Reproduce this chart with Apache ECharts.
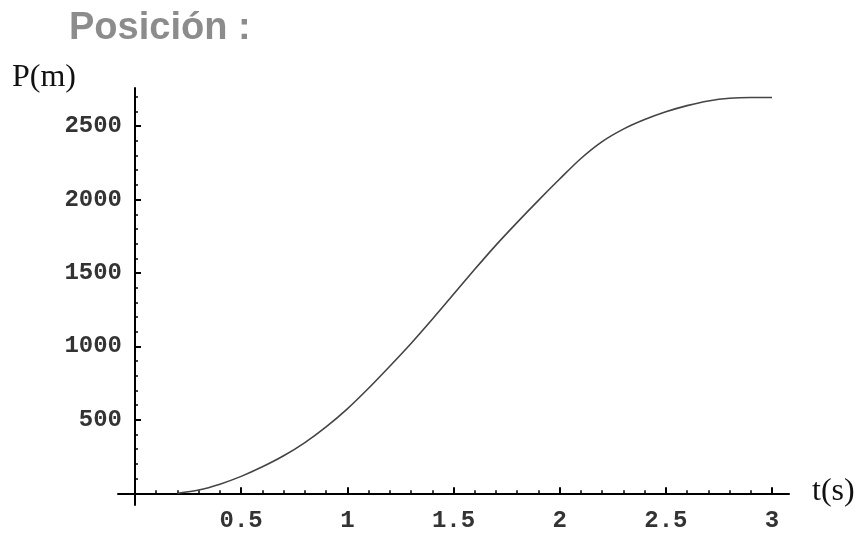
<!DOCTYPE html>
<html>
<head>
<meta charset="utf-8">
<script src="https://cdn.jsdelivr.net/npm/echarts@6/dist/echarts.min.js"></script>
<style>
  html, body { margin: 0; padding: 0; background: #fff; }
  #chart { width: 864px; height: 536px; }
</style>
</head>
<body>
<div id="chart"></div>
<script>
// tiempo (s) y posición (m)
var tValues = [0.2, 0.3, 0.4, 0.5, 0.6, 0.7, 0.8, 0.9, 1.0, 1.1, 1.2, 1.3, 1.4, 1.5,
  1.6, 1.7, 1.8, 1.9, 2.0, 2.1, 2.2, 2.3, 2.4, 2.5, 2.6, 2.7, 2.8, 2.9, 3.0];
var posValues = [0, 22, 62, 115, 180, 255, 345, 452, 575, 715, 865, 1020, 1185, 1355,
  1525, 1690, 1845, 1995, 2140, 2280, 2395, 2480, 2545, 2598, 2640, 2672, 2690, 2695, 2695];

// marcas de los ejes
var xTickLabels = [0.5, 1, 1.5, 2, 2.5, 3];
var yTickLabels = [500, 1000, 1500, 2000, 2500];

var xMinor = [];
for (var i = 1; i <= 30; i++) {
  if (i % 5 !== 0) xMinor.push(+(i / 10).toFixed(1));
}
var yMinor = [];
for (var j = 1; j <= 27; j++) {
  if (j % 5 !== 0) yMinor.push(j * 100);
}

var lineData = tValues.map(function (t, k) {
  return [t, posValues[k]];
});

var chart = echarts.init(document.getElementById("chart"));

var labelStyle = {
  fontFamily: "Liberation Mono",
  fontWeight: "bold",
  fontSize: 24,
  color: "#333",
  formatter: function (v) {
    return String(v);
  },
};

chart.setOption({
  animation: false,
  title: {
    text: "Posición :",
    left: 64,
    top: 5,
    textStyle: {
      fontFamily: "Liberation Sans",
      fontWeight: "bold",
      fontSize: 38,
      color: "#8c8c8c",
    },
  },
  grid: {
    left: 118,
    right: 75,
    top: 88,
    bottom: 31,
    containLabel: false,
    outerBoundsMode: "none",
  },
  graphic: [
    {
      type: "text",
      left: 12,
      top: 62,
      style: {
        text: "P(m)",
        font: "32px 'Liberation Serif'",
        fill: "#111",
      },
    },
    {
      type: "text",
      left: 812,
      top: 476,
      style: {
        text: "t(s)",
        font: "32px 'Liberation Serif'",
        fill: "#111",
      },
    },
  ],
  xAxis: [
    {
      type: "value",
      min: -0.08,
      max: 3.08,
      splitLine: { show: false },
      axisLine: { onZero: true, onZeroAxisIndex: 0, lineStyle: { color: "#000", width: 2 } },
      axisTick: {
        inside: true,
        length: 6,
        customValues: xTickLabels,
        lineStyle: { color: "#000", width: 2 },
      },
      axisLabel: Object.assign({ margin: 4, customValues: xTickLabels }, labelStyle),
    },
    {
      // marcas menores
      type: "value",
      position: "bottom",
      min: -0.08,
      max: 3.08,
      splitLine: { show: false },
      axisLine: { show: false, onZero: true, onZeroAxisIndex: 0 },
      axisTick: {
        inside: true,
        length: 3,
        customValues: xMinor,
        lineStyle: { color: "#000", width: 1.5 },
      },
      axisLabel: { show: false },
    },
  ],
  yAxis: [
    {
      type: "value",
      min: -80,
      max: 2760,
      splitLine: { show: false },
      axisLine: { onZero: true, onZeroAxisIndex: 0, lineStyle: { color: "#000", width: 2 } },
      axisTick: {
        inside: true,
        length: 6,
        customValues: yTickLabels,
        lineStyle: { color: "#000", width: 2 },
      },
      axisLabel: Object.assign({ margin: -4, customValues: yTickLabels }, labelStyle),
    },
    {
      type: "value",
      position: "left",
      min: -80,
      max: 2760,
      splitLine: { show: false },
      axisLine: { show: false, onZero: true, onZeroAxisIndex: 0 },
      axisTick: {
        inside: true,
        length: 3,
        customValues: yMinor,
        lineStyle: { color: "#000", width: 1.5 },
      },
      axisLabel: { show: false },
    },
  ],
  series: [
    {
      type: "line",
      xAxisIndex: 0,
      yAxisIndex: 0,
      data: lineData,
      smooth: 0.3,
      showSymbol: false,
      lineStyle: { color: "#444", width: 1.6 },
    },
  ],
});
</script>
</body>
</html>
